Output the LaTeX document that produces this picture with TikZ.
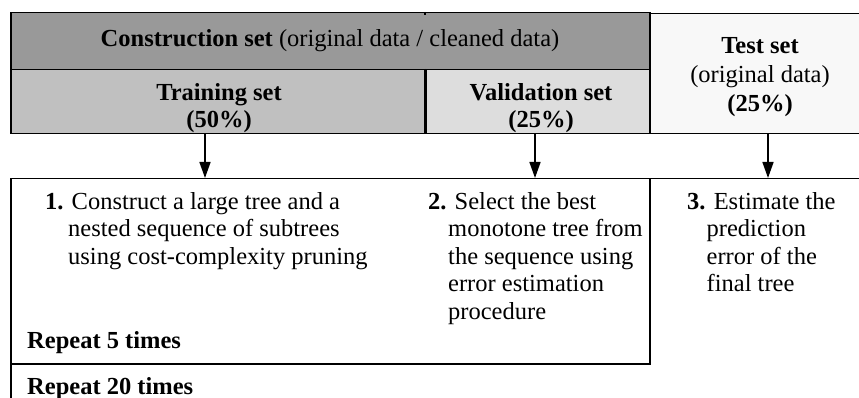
\documentclass[tikz,border=0pt]{standalone}
\usepackage{fontspec}
\setmainfont{Liberation Serif}
\usetikzlibrary{arrows.meta}
\definecolor{constrgray}{RGB}{153,153,153}
\definecolor{traingray}{RGB}{192,192,192}
\definecolor{validgray}{RGB}{221,221,221}
\definecolor{testgray}{RGB}{248,248,248}
\begin{document}
\begin{tikzpicture}[x=1pt,y=-1pt,
  box/.style={draw=black, line width=1.5pt, inner sep=0pt, anchor=north west},
  hdr/.style={font=\fontsize{24.5}{27.5}\selectfont, inner sep=0pt, align=center, anchor=base},
  steptxt/.style={font=\fontsize{24.5}{27.5}\selectfont, inner sep=0pt, align=left, anchor=base west},
  looptxt/.style={font=\fontsize{24.5}{27.5}\selectfont\bfseries, inner sep=0pt, anchor=base west},
  flow/.style={line width=1.5pt, -{Triangle[width=11pt,length=16pt]}}]
\useasboundingbox (0,0) rectangle (859,398);
\fill[white] (0,0) rectangle (859,398);

% loop frames
\node[box, minimum width=870pt, minimum height=260pt] (outer) at (10,178) {};
\node[box, minimum width=639pt, minimum height=185pt] (inner) at (10,178) {};

% data partition
\node[box, fill=constrgray, minimum width=639pt, minimum height=57pt] (constr) at (10,12) {};
\node[box, fill=traingray, minimum width=415pt, minimum height=64pt] (train) at (10,69) {};
\node[box, fill=validgray, minimum width=224pt, minimum height=64pt] (valid) at (425,69) {};
\node[box, fill=testgray, minimum width=230pt, minimum height=120pt] (test) at (649,13) {};
\draw[line width=2.8pt] (valid.north west) -- (valid.south west);
\draw[line width=1.5pt] (constr.north west -| valid.north west) -- ++(0,3);

% arrow targets on the loop frame
\coordinate (t1) at (205,178);
\coordinate (t2) at (535,178);
\coordinate (t3) at (768,178);
\draw[flow] (train.south -| t1) -- (t1);
\draw[flow] (valid.south -| t2) -- (t2);
\draw[flow] (test.south -| t3) -- (t3);

% headers (anchored at the baseline of their last line)
\node[hdr] (constrtxt) at (330,47) {\textbf{Construction set} (original data / cleaned data)};
\node[hdr] (traintxt) at (219,128) {\textbf{Training set}\\\textbf{(50\%)}};
\node[hdr] (validtxt) at (541,128) {\textbf{Validation set}\\\textbf{(25\%)}};
\node[hdr] (testtxt) at (760,112) {\textbf{Test set}\\[1pt](original data)\\[2pt]\textbf{(25\%)}};

% steps (anchored at the baseline of their last line)
\node[steptxt] (s1) at (45,264) {\textbf{1.} Construct a large tree and a\\\hspace*{23pt}nested sequence of subtrees\\\hspace*{23pt}using cost-complexity pruning};
\node[steptxt] (s2) at (428,319) {\textbf{2.} Select the best\\\hspace*{20pt}monotone tree from\\\hspace*{20pt}the sequence using\\\hspace*{20pt}error estimation\\\hspace*{20pt}procedure};
\node[steptxt] (s3) at (687,291.5) {\textbf{3.} Estimate the\\\hspace*{19.5pt}prediction\\\hspace*{19.5pt}error of the\\\hspace*{19.5pt}final tree};

% loop labels
\node[looptxt] (rep5) at (27,348) {Repeat 5 times};
\node[looptxt] (rep20) at (27,394) {Repeat 20 times};
\end{tikzpicture}
\end{document}
